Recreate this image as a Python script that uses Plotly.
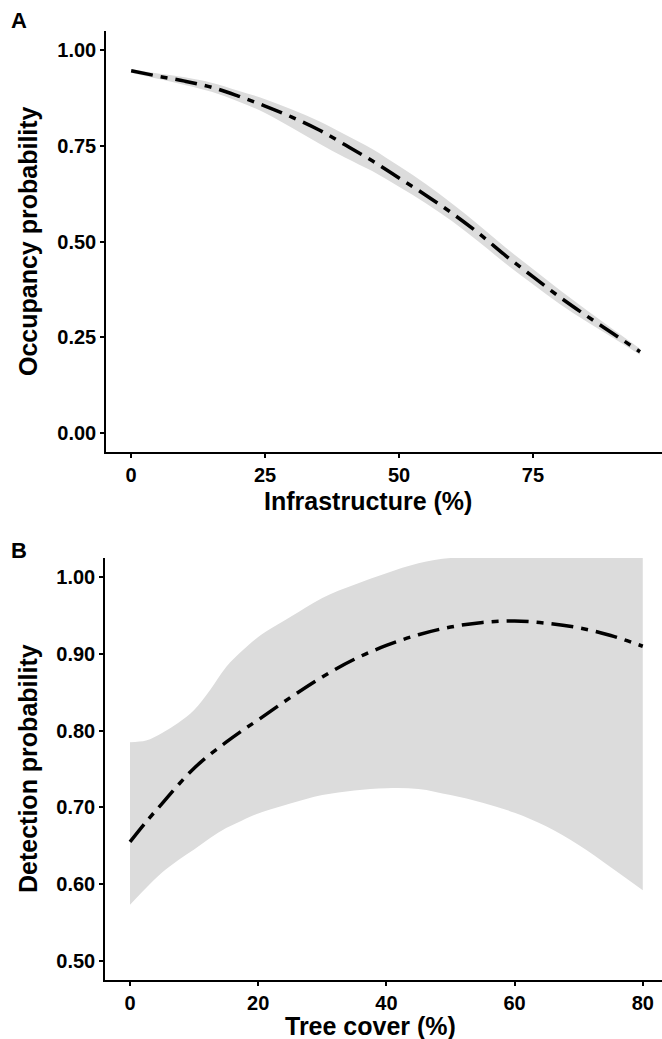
import plotly.graph_objects as go

# ---- Panel A data: occupancy vs infrastructure ----
infra_x = [0, 5, 10, 15, 20, 25, 30, 35, 40, 45, 50, 55, 60, 65, 70, 75, 80, 85, 90, 95]
occ_mean = [0.946, 0.932, 0.919, 0.903, 0.880, 0.854, 0.825, 0.792, 0.752, 0.711,
            0.666, 0.621, 0.573, 0.520, 0.462, 0.408, 0.355, 0.306, 0.259, 0.212]
occ_upper = [0.951, 0.939, 0.929, 0.915, 0.894, 0.872, 0.845, 0.815, 0.779, 0.742,
             0.697, 0.650, 0.598, 0.542, 0.483, 0.428, 0.373, 0.321, 0.270, 0.220]
occ_lower = [0.941, 0.925, 0.909, 0.891, 0.866, 0.836, 0.797, 0.757, 0.719, 0.684,
             0.643, 0.600, 0.552, 0.498, 0.441, 0.388, 0.337, 0.291, 0.248, 0.204]
occ_ticks = [0.00, 0.25, 0.50, 0.75, 1.00]
occ_ticklabels = ["0.00", "0.25", "0.50", "0.75", "1.00"]
infra_ticks = [0, 25, 50, 75]

# ---- Panel B data: detection vs tree cover ----
tree_x = [0, 2.5, 5, 7.5, 10, 12.5, 15, 17.5, 20, 25, 30, 35, 40, 45, 50, 55, 60, 65, 70, 75, 80]
det_mean = [0.655, 0.681, 0.705, 0.729, 0.751, 0.769, 0.785, 0.800, 0.814, 0.843, 0.870,
            0.893, 0.911, 0.925, 0.935, 0.941, 0.943, 0.940, 0.934, 0.924, 0.910]
det_upper = [0.785, 0.787, 0.797, 0.810, 0.827, 0.853, 0.883, 0.904, 0.922, 0.948, 0.973,
             0.990, 1.005, 1.018, 1.025, 1.025, 1.025, 1.025, 1.025, 1.025, 1.025]
det_lower = [0.573, 0.595, 0.615, 0.631, 0.645, 0.660, 0.673, 0.683, 0.692, 0.705, 0.716,
             0.722, 0.725, 0.724, 0.716, 0.706, 0.693, 0.675, 0.651, 0.622, 0.592]
det_ticks = [0.5, 0.6, 0.7, 0.8, 0.9, 1.0]
det_ticklabels = ["0.50", "0.60", "0.70", "0.80", "0.90", "1.00"]
tree_ticks = [0, 20, 40, 60, 80]

W, H = 662, 1039
FONT = "Liberation Sans"
RIBBON = "#dcdcdc"
DASH = "22px,8px,7px,8px"

fig = go.Figure()

def add_panel(x, lo, hi, mean, xa, ya):
    fig.add_trace(go.Scatter(x=x, y=lo, mode="lines", line=dict(width=0, color=RIBBON, shape="spline"),
                             xaxis=xa, yaxis=ya, showlegend=False, hoverinfo="skip"))
    fig.add_trace(go.Scatter(x=x, y=hi, mode="lines", line=dict(width=0, color=RIBBON, shape="spline"),
                             fill="tonexty", fillcolor=RIBBON,
                             xaxis=xa, yaxis=ya, showlegend=False, hoverinfo="skip"))
    fig.add_trace(go.Scatter(x=x, y=mean, mode="lines",
                             line=dict(color="black", width=3.5, dash=DASH, shape="spline"),
                             xaxis=xa, yaxis=ya, showlegend=False))

add_panel(infra_x, occ_lower, occ_upper, occ_mean, "x", "y")
add_panel(tree_x, det_lower, det_upper, det_mean, "x2", "y2")

tickfont = dict(family=FONT, size=20, color="black", weight="bold")
axis_common = dict(showline=True, linecolor="black", linewidth=1.5, ticks="outside",
                   ticklen=4, tickwidth=1.5, tickcolor="black", showgrid=False,
                   zeroline=False, tickfont=tickfont, mirror=False)

fig.update_layout(
    width=W, height=H, margin=dict(l=0, r=0, t=0, b=0),
    paper_bgcolor="white", plot_bgcolor="white",
    xaxis=dict(domain=[106 / W, 1], anchor="y", range=[-4.7, 99.1], tickvals=infra_ticks, **axis_common),
    yaxis=dict(domain=[1 - 452 / H, 1 - 31 / H], anchor="x", range=[-0.05, 1.05],
               tickvals=occ_ticks, ticktext=occ_ticklabels, **axis_common),
    xaxis2=dict(domain=[105 / W, 1], anchor="y2", range=[-3.9, 83.0], tickvals=tree_ticks, **axis_common),
    yaxis2=dict(domain=[1 - 980 / H, 1 - 558 / H], anchor="x2", range=[0.475, 1.025],
                tickvals=det_ticks, ticktext=det_ticklabels, **axis_common),
)

title_font = dict(family=FONT, size=25, color="black", weight="bold")
label_font = dict(family=FONT, size=22, color="black", weight="bold")

def ann(text, px, py, font, angle=0):
    fig.add_annotation(text=text, xref="paper", yref="paper", x=px / W, y=1 - py / H,
                       xanchor="center", yanchor="middle", showarrow=False, font=font,
                       textangle=angle)

ann("Occupancy probability", 28, 241, title_font, -90)
ann("Infrastructure (%)", 368, 501, title_font)
ann("Detection probability", 28, 769, title_font, -90)
ann("Tree cover (%)", 370, 1026, title_font)
ann("A", 19, 20, label_font)
ann("B", 19, 550, label_font)

fig.write_html("out.html", config={"displayModeBar": False},
               post_script="document.body.style.margin='0px';document.body.style.overflow='hidden';")
